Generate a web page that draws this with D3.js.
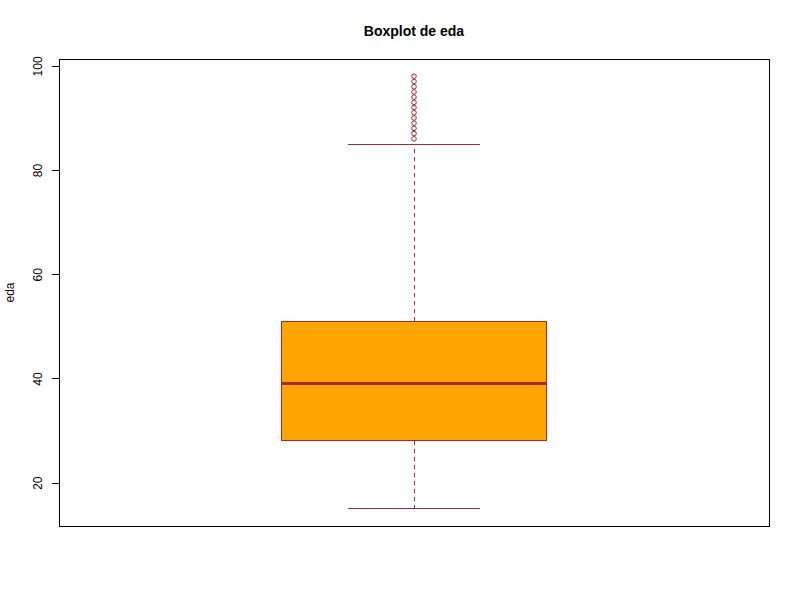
<!DOCTYPE html>
<html><head><meta charset="utf-8">
<script src="https://cdn.jsdelivr.net/npm/d3@7"></script>
<style>body{margin:0;background:#fff}svg{display:block;font-family:Arial,"Liberation Sans",sans-serif}line,rect{shape-rendering:crispEdges}</style>
</head><body>
<svg id="c" width="800" height="600"></svg>
<script>
// Data
const title = "Boxplot de eda";
const yLabel = "eda";
const yTicks = [20, 40, 60, 80, 100];
const stats = {lowWhisker: 15, q1: 28, median: 39, q3: 51, highWhisker: 85};
const outliers = [86, 87, 88, 89, 90, 91, 92, 93, 94, 95, 96, 97, 98];
const groups = [1];

const svg = d3.select("#c");
const L = 59, R = 769, T = 59, B = 526;
const dataMin = 15, dataMax = 98, pad = (dataMax - dataMin) * 0.04;
const y = d3.scaleLinear().domain([dataMin - pad, dataMax + pad]).range([B, T]);
const x = d3.scaleLinear().domain([0.48, 1.52]).range([L, R]);
const brown = "#A52A2A";
const halfBox = 0.1934, halfStaple = halfBox / 2;

// title
svg.append("text").attr("x", 414).attr("y", 36).attr("text-anchor", "middle")
  .attr("font-weight", "bold").attr("font-size", 14).text(title);

// y axis
const axis = d3.axisLeft(y).tickValues(yTicks).tickSize(7).tickPadding(0).tickFormat(d3.format("d"));
const ga = svg.append("g").attr("transform", `translate(${L},0)`).call(axis);
ga.select(".domain").remove();
ga.selectAll(".tick line").attr("stroke", "#000");
ga.selectAll(".tick text").attr("transform", "rotate(-90)").attr("x", 0).attr("y", -17)
  .attr("text-anchor", "middle").attr("dy", "0").attr("font-size", 12).attr("fill", "#000")
  .attr("font-family", "Arial, 'Liberation Sans', sans-serif");
ga.append("line").attr("x1", 0).attr("x2", 0).attr("y1", y(yTicks[0])).attr("y2", y(yTicks[yTicks.length-1])).attr("stroke", "#000");

// y label
svg.append("text").attr("transform", `translate(14,${(T+B)/2}) rotate(-90)`).attr("text-anchor", "middle")
  .attr("font-size", 12).text(yLabel);

// box frame
svg.append("rect").attr("x", L).attr("y", T).attr("width", R - L).attr("height", B - T)
  .attr("fill", "none").attr("stroke", "#000");

const g = svg.append("g");
groups.forEach(c => {
  // whiskers
  g.append("line").attr("x1", x(c)).attr("x2", x(c)).attr("y1", y(stats.q3)).attr("y2", y(stats.highWhisker))
    .attr("stroke", brown).attr("stroke-dasharray", "4,4");
  g.append("line").attr("x1", x(c)).attr("x2", x(c)).attr("y1", y(stats.q1)).attr("y2", y(stats.lowWhisker))
    .attr("stroke", brown).attr("stroke-dasharray", "4,4");
  // staples
  [stats.highWhisker, stats.lowWhisker].forEach(v => {
    g.append("line").attr("x1", x(c - halfStaple)).attr("x2", x(c + halfStaple)).attr("y1", y(v)).attr("y2", y(v))
      .attr("stroke", brown);
  });
  // box
  g.append("rect").attr("x", x(c - halfBox)).attr("y", y(stats.q3))
    .attr("width", x(c + halfBox) - x(c - halfBox)).attr("height", y(stats.q1) - y(stats.q3))
    .attr("fill", "#FFA500").attr("stroke", brown);
  // median
  g.append("line").attr("x1", x(c - halfBox)).attr("x2", x(c + halfBox)).attr("y1", y(stats.median)).attr("y2", y(stats.median))
    .attr("stroke", brown).attr("stroke-width", 3);
  // outliers
  g.selectAll("circle.o").data(outliers).enter().append("circle").attr("class", "o")
    .attr("cx", x(c)).attr("cy", d => y(d)).attr("r", 2.3).attr("fill", "none").attr("stroke", brown);
});
</script>
</body></html>
